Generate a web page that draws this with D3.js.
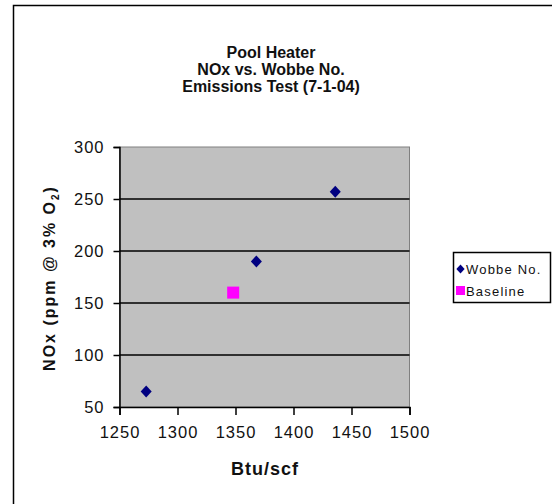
<!DOCTYPE html>
<html>
<head>
<meta charset="utf-8">
<script src="https://cdn.jsdelivr.net/npm/d3@7"></script>
<style>
  html, body { margin: 0; background: #fff; overflow: hidden; }
  svg { display: block; }
  text { font-family: "Liberation Sans", Arial, sans-serif; fill: #111; }
</style>
</head>
<body>
<div></div>
<script>
// chart data
const titleLines = ["Pool Heater", "NOx vs. Wobbe No.", "Emissions Test (7-1-04)"];
const wobbeBtu = [1273, 1368, 1436];
const wobbeNOx = [65, 190, 257];
const baselineBtu = [1348];
const baselineNOx = [160];
const xTicks = [1250, 1300, 1350, 1400, 1450, 1500];
const yTicks = [50, 100, 150, 200, 250, 300];
const seriesNames = ["Wobbe No.", "Baseline"];

// dimensions of the page and the plot area
const W = 552, H = 504;
const plot = { left: 119.5, right: 409.5, top: 147, bottom: 407 };

const svg = d3.select("body div")
    .append("svg")
    .attr("width", W)
    .attr("height", H);

// outer chart frame (runs off the right and bottom edges)
svg.append("path")
    .attr("d", `M13.5,${H + 10}V5.5H${W + 10}`)
    .attr("fill", "none")
    .attr("stroke", "#000")
    .attr("stroke-width", 1.5);

// title
svg.append("g")
    .selectAll("text")
    .data(titleLines)
    .join("text")
    .attr("x", 271)
    .attr("y", (d, i) => 57.5 + i * 17)
    .attr("text-anchor", "middle")
    .style("font-size", "16px")
    .style("font-weight", "bold")
    .text(d => d);

// scales
const x = d3.scaleLinear()
    .domain([1250, 1500])
    .range([plot.left, plot.right]);
const y = d3.scaleLinear()
    .domain([50, 300])
    .range([plot.bottom, plot.top]);

// plot background
svg.append("rect")
    .attr("x", plot.left)
    .attr("y", plot.top)
    .attr("width", plot.right - plot.left)
    .attr("height", plot.bottom - plot.top)
    .attr("fill", "#c0c0c0")
    .attr("stroke", "#808080")
    .attr("stroke-width", 1);

// horizontal gridlines
svg.append("g")
    .selectAll("line")
    .data(yTicks.slice(1, -1))
    .join("line")
    .attr("x1", plot.left)
    .attr("x2", plot.right)
    .attr("y1", d => y(d))
    .attr("y2", d => y(d))
    .attr("stroke", "#000")
    .attr("stroke-width", 1.5);

// Y axis
const yAxis = svg.append("g")
    .attr("transform", `translate(${plot.left},0)`)
    .call(d3.axisLeft(y).tickValues(yTicks).tickFormat(d3.format("d"))
        .tickSize(6).tickPadding(9));
yAxis.select(".domain").attr("stroke-width", 1.5);
yAxis.selectAll(".tick line").attr("stroke-width", 1.5);
yAxis.selectAll(".tick text")
    .style("font-size", "16.5px")
    .style("letter-spacing", "1px")
    .attr("fill", "#111");

// X axis
const xAxis = svg.append("g")
    .attr("transform", `translate(0,${plot.bottom})`)
    .call(d3.axisBottom(x).tickValues(xTicks).tickFormat(d3.format("d"))
        .tickSize(8).tickPadding(11));
xAxis.select(".domain").attr("stroke-width", 1.5);
xAxis.selectAll(".tick line").attr("stroke-width", 1.5);
xAxis.selectAll(".tick text")
    .style("font-size", "16.5px")
    .style("letter-spacing", "1px")
    .attr("fill", "#111");

// axis titles
svg.append("text")
    .attr("x", 265)
    .attr("y", 475)
    .attr("text-anchor", "middle")
    .style("font-size", "18px")
    .style("font-weight", "bold")
    .style("letter-spacing", "1px")
    .text("Btu/scf");

const ylab = svg.append("text")
    .attr("transform", "translate(55,278) rotate(-90)")
    .attr("text-anchor", "middle")
    .style("font-size", "16px")
    .style("font-weight", "bold")
    .style("letter-spacing", "2px");
ylab.append("tspan").text("NOx (ppm @ 3% O");
ylab.append("tspan").attr("dy", 4).style("font-size", "10px").text("2");
ylab.append("tspan").attr("dy", -4).text(")");

// marker shapes
const diamond = s => `M0,${-s}L${s * 0.92},0L0,${s}L${-s * 0.92},0Z`;

// Wobbe No. points
svg.append("g")
    .selectAll("path")
    .data(wobbeBtu.map((b, i) => [b, wobbeNOx[i]]))
    .join("path")
    .attr("transform", d => `translate(${x(d[0])},${y(d[1])})`)
    .attr("d", diamond(6))
    .attr("fill", "#000080");

// Baseline points
svg.append("g")
    .selectAll("rect")
    .data(baselineBtu.map((b, i) => [b, baselineNOx[i]]))
    .join("rect")
    .attr("x", d => x(d[0]) - 6)
    .attr("y", d => y(d[1]) - 6)
    .attr("width", 12)
    .attr("height", 12)
    .attr("fill", "#ff00ff");

// legend
const legend = svg.append("g");
legend.append("rect")
    .attr("x", 453.5)
    .attr("y", 252.5)
    .attr("width", 97)
    .attr("height", 50)
    .attr("fill", "#fff")
    .attr("stroke", "#000")
    .attr("stroke-width", 1.5);
legend.append("path")
    .attr("transform", "translate(460.5,269)")
    .attr("d", diamond(4.5))
    .attr("fill", "#000080");
legend.append("rect")
    .attr("x", 456)
    .attr("y", 286)
    .attr("width", 9)
    .attr("height", 9)
    .attr("fill", "#ff00ff");
legend.selectAll(".lbl")
    .data(seriesNames)
    .join("text")
    .attr("class", "lbl")
    .attr("x", 466)
    .attr("y", (d, i) => 273.5 + i * 22)
    .style("font-size", "13px")
    .style("letter-spacing", "1.2px")
    .attr("fill", "#222")
    .text(d => d);
</script>
</body>
</html>
